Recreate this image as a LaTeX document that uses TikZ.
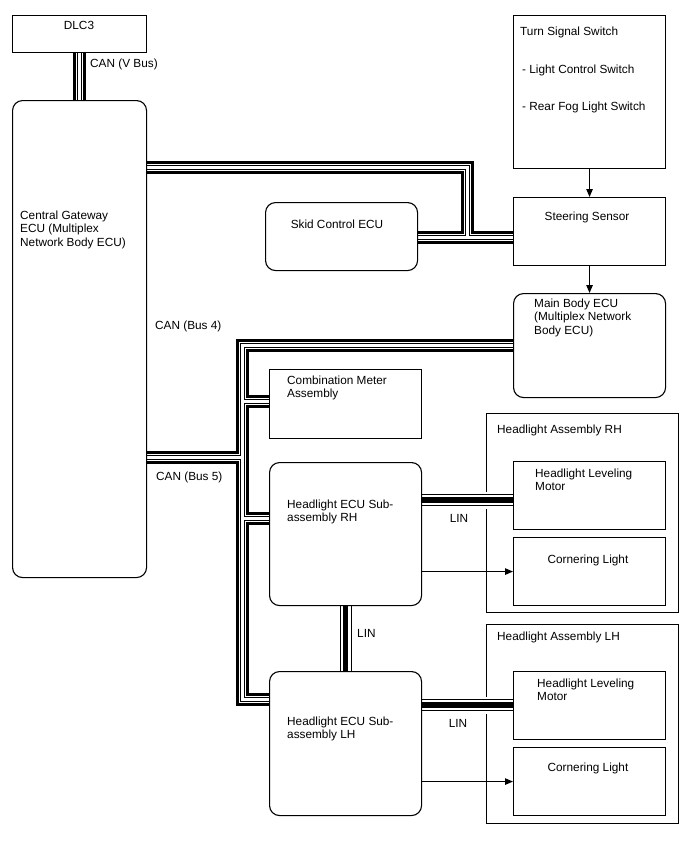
\documentclass[tikz,border=0pt]{standalone}
\usepackage{fontspec}
\setmainfont{Liberation Sans}
\usetikzlibrary{arrows.meta}
\pgfdeclarelayer{background}
\pgfsetlayers{background,main}

\tikzset{
  box/.style={draw, line width=1.1pt, anchor=north west, inner sep=0pt},
  ecu/.style={box, rounded corners=10pt},
  txt/.style={inner sep=0pt, font=\fontsize{11.8}{13.6}\selectfont, align=left},
  canbus/.style={draw=black, line width=13pt, line join=miter,
    postaction={draw=white, line width=7pt, line join=miter},
    postaction={draw=black, line width=5pt, line join=miter},
    postaction={draw=white, line width=3pt, line join=miter}},
  linbus/.style={draw=black, line width=12pt,
    preaction={draw=white, line width=17pt},
    postaction={draw=white, line width=10pt},
    postaction={draw=black, line width=5.5pt}},
  arr/.style={line width=1.1pt, -{Triangle[length=8pt,width=6.5pt]}}
}

\begin{document}
\begin{tikzpicture}[x=1pt, y=-1pt]
\useasboundingbox (0,0) rectangle (688,852);

% headlight assemblies
\begin{pgfonlayer}{background}
\node[box, minimum width=192pt, minimum height=199pt] (harh) at (486,413) {};
\node[box, minimum width=192pt, minimum height=199pt] (halh) at (486,624) {};
\end{pgfonlayer}

% ECUs and sensors
\node[box, minimum width=134pt, minimum height=37pt] (dlc) at (12,15) {};
\node[ecu, minimum width=134pt, minimum height=477pt] (gw) at (12,100) {};
\node[box, minimum width=152pt, minimum height=153pt] (tss) at (513,15) {};
\node[box, minimum width=152pt, minimum height=68pt] (ss) at (513,197) {};
\node[ecu, minimum width=152pt, minimum height=104pt] (mb) at (513,293) {};
\node[ecu, minimum width=152pt, minimum height=68pt] (skid) at (265,202) {};
\node[box, minimum width=152pt, minimum height=69pt] (cm) at (269,369) {};
\node[ecu, minimum width=152pt, minimum height=143pt] (hrh) at (269,462) {};
\node[ecu, minimum width=152pt, minimum height=144pt] (hlh) at (269,671) {};
\node[box, minimum width=152pt, minimum height=68pt] (lmrh) at (513,461) {};
\node[box, minimum width=152pt, minimum height=68pt] (clrh) at (513,537) {};
\node[box, minimum width=152pt, minimum height=68pt] (lmlh) at (513,671) {};
\node[box, minimum width=152pt, minimum height=68pt] (cllh) at (513,747) {};

% texts
\node[txt, anchor=base] (dlc-t) at (79,29) {DLC3};
\node[txt, anchor=base west] (vbus-t) at (90,67) {CAN (V Bus)};
\node[txt, anchor=north west] (gw-t) at (20,210.4) {Central Gateway\\ECU (Multiplex\\Network Body ECU)};
\node[txt, anchor=base west] (tss-t1) at (520,35) {Turn Signal Switch};
\node[txt, anchor=base west] (tss-t2) at (522,73) {- Light Control Switch};
\node[txt, anchor=base west] (tss-t3) at (522,110) {- Rear Fog Light Switch};
\node[txt, anchor=base] (ss-t) at (587,220) {Steering Sensor};
\node[txt, anchor=north west] (mb-t) at (534,298.4) {Main Body ECU\\(Multiplex Network\\Body ECU)};
\node[txt, anchor=base] (skid-t) at (337,228) {Skid Control ECU};
\node[txt, anchor=north west] (cm-t) at (287,375.4) {Combination Meter\\Assembly};
\node[txt, anchor=north west] (hrh-t) at (287,499.4) {Headlight ECU Sub-\\assembly RH};
\node[txt, anchor=north west] (hlh-t) at (287,716.4) {Headlight ECU Sub-\\assembly LH};
\node[txt, anchor=base west] (harh-t) at (497,433) {Headlight Assembly RH};
\node[txt, anchor=north west] (lmrh-t) at (535,468.4) {Headlight Leveling\\Motor};
\node[txt, anchor=base] (clrh-t) at (588,563) {Cornering Light};
\node[txt, anchor=base west] (halh-t) at (497,640) {Headlight Assembly LH};
\node[txt, anchor=north west] (lmlh-t) at (537,678.4) {Headlight Leveling\\Motor};
\node[txt, anchor=base] (cllh-t) at (588,771) {Cornering Light};
\node[txt, anchor=base west] (bus4-t) at (155,329) {CAN (Bus 4)};
\node[txt, anchor=base west] (bus5-t) at (156,480) {CAN (Bus 5)};
\node[txt, anchor=base] (lin1-t) at (459,522) {LIN};
\node[txt, anchor=base west] (lin2-t) at (357,637) {LIN};
\node[txt, anchor=base] (lin3-t) at (458,727) {LIN};

% bus points
\coordinate (t1) at (467,167);
\coordinate (t2) at (467,237);
\coordinate (v1) at (242,345);
\coordinate (v2) at (242,699);
\coordinate (j5) at (242,457);
\coordinate (jc) at (242,401);
\coordinate (jh) at (242,518);
\coordinate (l1) at (460,500);
\coordinate (l3) at (460,705);

% CAN and LIN lines
\begin{pgfonlayer}{background}
\draw[canbus] (dlc.south) -- (gw.north);
\draw[canbus] (gw.east |- t1) -- (t1) -- (t2)
  (skid.east |- t2) -- (ss.west |- t2);
\draw[canbus] (mb.west |- v1) -- (v1) -- (v2) -- (hlh.west |- v2)
  (gw.east |- j5) -- (j5)
  (jc) -- (cm.west |- jc)
  (jh) -- (hrh.west |- jh);
\draw[linbus] (hrh.east |- l1) -- (lmrh.west |- l1);
\draw[linbus] (hrh.south) -- (hlh.north);
\draw[linbus] (hlh.east |- l3) -- (lmlh.west |- l3);
\end{pgfonlayer}

% signals
\draw[arr] (tss.south) -- (ss.north);
\draw[arr] (ss.south) -- (mb.north);
\draw[arr] (hrh.east |- clrh.west) -- (clrh.west);
\draw[arr] (hlh.east |- cllh.west) -- (cllh.west);
\end{tikzpicture}
\end{document}
